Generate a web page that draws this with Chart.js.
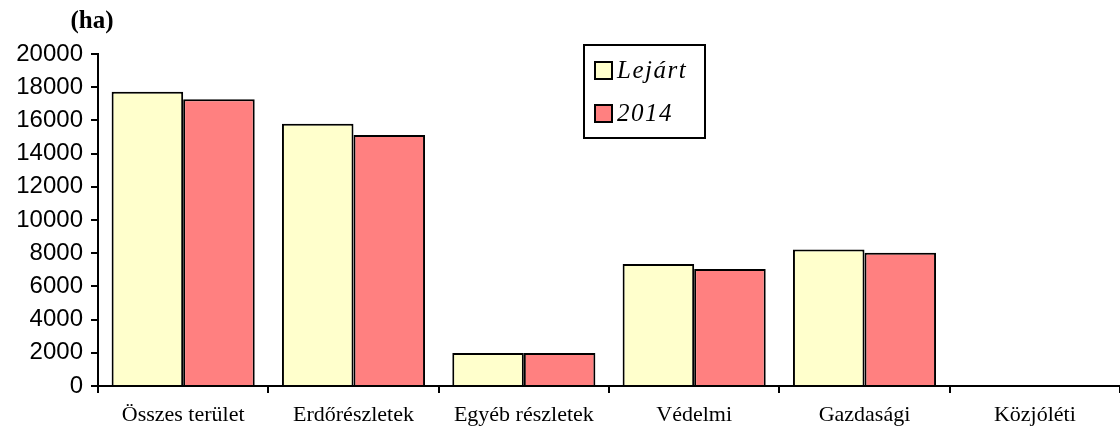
<!DOCTYPE html>
<html>
<head>
<meta charset="utf-8">
<script src="https://cdn.jsdelivr.net/npm/chart.js@4/dist/chart.umd.min.js"></script>
<style>
    html, body { margin: 0; padding: 0; background: #fff; }
    #wrap { width: 1120px; height: 432px; position: relative; }
</style>
</head>
<body>
<div id="wrap"><canvas id="chart" width="1120" height="432"></canvas></div>
<script>
// ======================================
// Data
// ======================================
const categories = ["Összes terület", "Erdőrészletek", "Egyéb részletek", "Védelmi", "Gazdasági", "Közjóléti"];
const seriesNames = ["Lejárt", "2014"];
const lejartValues = [17730, 15800, 1990, 7350, 8220, 60];
const values2014 = [17270, 15120, 1990, 7050, 8030, 60];
const yTicks = [0, 2000, 4000, 6000, 8000, 10000, 12000, 14000, 16000, 18000, 20000];
const unitLabel = "(ha)";

const colors = ["#FFFFCC", "#FF8080"];

// ======================================
// Plugins: unit label + boxed legend
// ======================================
const unitPlugin = {
    id: "unitLabel",
    afterDraw(chart) {
        const ctx = chart.ctx;
        ctx.save();
        ctx.font = "bold 25px 'Liberation Serif'";
        ctx.fillStyle = "#000";
        ctx.textAlign = "center";
        ctx.textBaseline = "middle";
        ctx.fillText(unitLabel, 92, 22);
        ctx.restore();
    }
};

const boxLegend = {
    id: "boxLegend",
    afterDraw(chart) {
        const ctx = chart.ctx;
        ctx.save();
        ctx.lineWidth = 2;
        ctx.strokeStyle = "#000";
        ctx.strokeRect(584, 45, 121, 93);
        ctx.font = "italic 25px 'Liberation Serif'";
        ctx.letterSpacing = "1.5px";
        ctx.textBaseline = "middle";
        chart.data.datasets.forEach((ds, i) => {
            const y = 70 + i * 43;
            ctx.fillStyle = ds.backgroundColor;
            ctx.fillRect(595, y - 8, 17, 17);
            ctx.strokeRect(595, y - 8, 17, 17);
            ctx.fillStyle = "#000";
            ctx.fillText(ds.label, 617, y + 1);
        });
        ctx.restore();
    }
};

// ======================================
// Chart
// ======================================
const ctx = document.getElementById("chart").getContext("2d");

new Chart(ctx, {
    type: "bar",
    data: {
        labels: categories,
        datasets: [
            {
                label: seriesNames[0],
                data: lejartValues,
                backgroundColor: colors[0],
                borderColor: "#000",
                borderWidth: 2
            },
            {
                label: seriesNames[1],
                data: values2014,
                backgroundColor: colors[1],
                borderColor: "#000",
                borderWidth: 2
            }
        ]
    },
    options: {
        responsive: false,
        animation: false,
        devicePixelRatio: 1,
        layout: { padding: { top: 54, right: 0, left: 0, bottom: 0 } },
        datasets: {
            bar: { categoryPercentage: 0.84, barPercentage: 1.0 }
        },
        scales: {
            x: {
                offset: true,
                grid: {
                    offset: true,
                    drawOnChartArea: false,
                    drawTicks: true,
                    tickLength: 7,
                    color: "#000",
                    lineWidth: 2
                },
                border: { color: "#000", width: 2 },
                ticks: {
                    color: "#000",
                    font: { family: "'Liberation Serif'", size: 22 },
                    padding: 9,
                    maxRotation: 0,
                    autoSkip: false
                },
                afterFit(scale) { scale.height = 46; }
            },
            y: {
                min: 0,
                max: 20000,
                afterBuildTicks(scale) {
                    scale.ticks = yTicks.map(v => ({ value: v }));
                },
                grid: {
                    drawOnChartArea: false,
                    drawTicks: true,
                    tickLength: 7,
                    color: "#000",
                    lineWidth: 2
                },
                border: { color: "#000", width: 2 },
                ticks: {
                    color: "#000",
                    font: { family: "'Liberation Sans'", size: 24 },
                    padding: 8,
                    callback: v => String(v)
                },
                afterFit(scale) { scale.width = 98; }
            }
        },
        plugins: {
            legend: { display: false },
            tooltip: { enabled: false }
        }
    },
    plugins: [unitPlugin, boxLegend]
});
</script>
</body>
</html>
